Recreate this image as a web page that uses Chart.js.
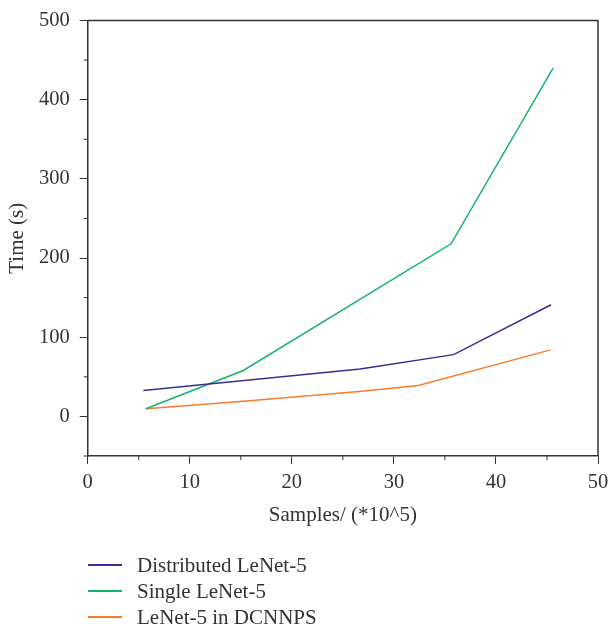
<!DOCTYPE html>
<html>
<head>
<meta charset="utf-8">
<script src="https://cdn.jsdelivr.net/npm/chart.js@4"></script>
<style>
  html, body { margin: 0; padding: 0; background: #fff; }
  #wrap { position: relative; width: 609px; height: 629px; }
  #legend { position: absolute; left: 88px; top: 552px; font-family: "Liberation Serif", serif; font-size: 21px; color: #333; }
  .item { display: flex; align-items: center; height: 26px; }
  .swatch { width: 34px; height: 0; border-top: 2px solid; margin-right: 15px; }
</style>
</head>
<body>
<div id="wrap">
  <canvas id="chart" width="609" height="629"></canvas>
  <div id="legend"></div>
</div>
<script>
// Series (x in units of 10^5 samples, y in seconds)
const seriesNames = ['Distributed LeNet-5', 'Single LeNet-5', 'LeNet-5 in DCNNPS'];
const seriesColors = ['#3d2b98', '#17b36b', '#f67d2c'];

const distributedX = [5.45, 26.7, 35.85, 45.4];
const distributedY = [32.8, 59.8, 78, 141];

const singleX = [5.7, 15.25, 35.6, 45.6];
const singleY = [9.7, 58, 218, 440];

const dcnnpsX = [5.7, 15.25, 26.6, 32.4, 45.35];
const dcnnpsY = [9.7, 19, 31.5, 39, 84];

const xTicks = [0, 10, 20, 30, 40, 50];
const yTicks = [0, 100, 200, 300, 400, 500];

const toPoints = (xs, ys) => xs.map((x, i) => ({ x, y: ys[i] }));
const allSeries = [
    toPoints(distributedX, distributedY),
    toPoints(singleX, singleY),
    toPoints(dcnnpsX, dcnnpsY)
];

const axisColor = '#333';
const tickFont = { family: '"Liberation Serif", serif', size: 20.5 };
const titleFont = { family: '"Liberation Serif", serif', size: 21 };

// Box border + short minor ticks
const frame = {
    id: 'frame',
    afterDraw(chart) {
        const { ctx, chartArea: a, scales } = chart;
        ctx.save();
        ctx.strokeStyle = axisColor;
        ctx.lineWidth = 1.5;
        ctx.beginPath();
        ctx.moveTo(a.left, a.top);
        ctx.lineTo(a.right, a.top);
        ctx.lineTo(a.right, a.bottom);
        ctx.stroke();
        // minor ticks
        ctx.lineWidth = 1;
        ctx.beginPath();
        for (let v = 5; v < 50; v += 10) {
            const px = scales.x.getPixelForValue(v);
            ctx.moveTo(px, a.bottom);
            ctx.lineTo(px, a.bottom + 4);
        }
        for (let v = -50; v < 500; v += 100) {
            const py = scales.y.getPixelForValue(v);
            ctx.moveTo(a.left, py);
            ctx.lineTo(a.left - 4, py);
        }
        ctx.stroke();
        ctx.restore();
    }
};

new Chart(document.getElementById('chart'), {
    type: 'line',
    data: {
        datasets: allSeries.map((pts, i) => ({
            label: seriesNames[i],
            data: pts,
            borderColor: seriesColors[i],
            backgroundColor: seriesColors[i],
            borderWidth: 1.5,
            pointRadius: 0,
            tension: 0,
            fill: false
        }))
    },
    options: {
        responsive: false,
        animation: false,
        layout: { padding: { left: 0, right: 11, top: 20.5, bottom: 97 } },
        plugins: { legend: { display: false }, tooltip: { enabled: false } },
        scales: {
            x: {
                type: 'linear',
                min: 0, max: 50,
                afterBuildTicks: s => { s.ticks = xTicks.map(v => ({ value: v })); },
                afterFit: s => { s.height = 76; s.paddingLeft = 0; s.paddingRight = 0; },
                grid: { drawOnChartArea: false, drawTicks: true, tickLength: 8, color: axisColor },
                border: { color: axisColor, width: 1.5 },
                ticks: { color: axisColor, font: tickFont, padding: 6, maxRotation: 0 },
                title: { display: true, text: 'Samples/ (*10^5)', color: axisColor, font: titleFont, padding: { top: 4, bottom: 4 } }
            },
            y: {
                type: 'linear',
                min: -50, max: 500,
                afterBuildTicks: s => { s.ticks = yTicks.map(v => ({ value: v })); },
                afterFit: s => { s.width = 87.7; s.paddingTop = 0; s.paddingBottom = 0; },
                grid: { drawOnChartArea: false, drawTicks: true, tickLength: 8, color: axisColor },
                border: { color: axisColor, width: 1.5 },
                ticks: { color: axisColor, font: tickFont, padding: 10 },
                title: { display: true, text: 'Time (s)', color: axisColor, font: titleFont, padding: { top: 5, bottom: 4 } }
            }
        }
    },
    plugins: [frame]
});

const legend = document.getElementById('legend');
seriesNames.forEach((name, i) => {
    legend.insertAdjacentHTML('beforeend',
        `<div class="item"><span class="swatch" style="border-color:${seriesColors[i]}"></span><span>${name}</span></div>`);
});
</script>
</body>
</html>
